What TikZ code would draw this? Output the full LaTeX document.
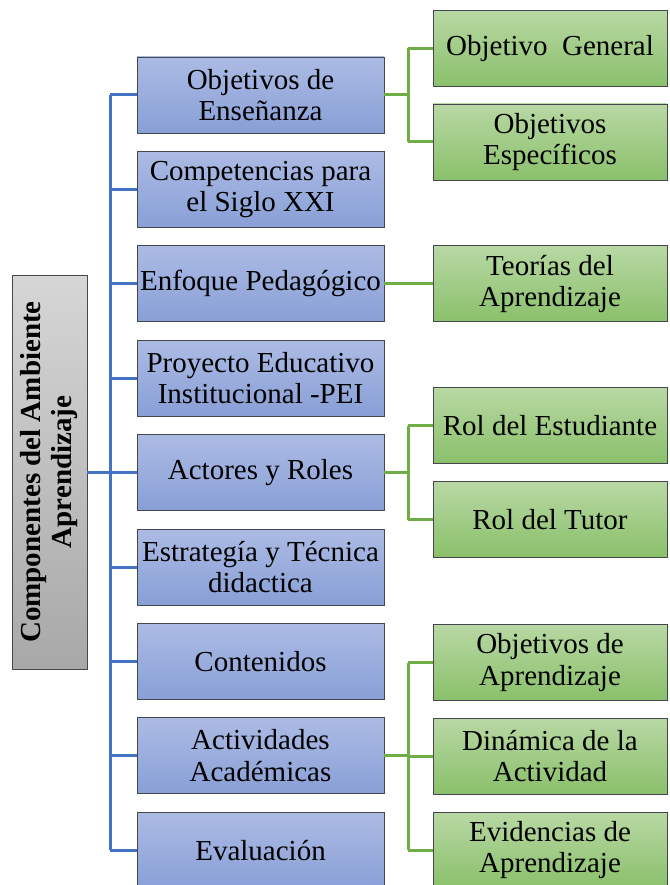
\documentclass[tikz,border=0pt]{standalone}
\usepackage{fontspec}
\setmainfont{LiberationSerif}[Extension=.ttf, UprightFont=*-Regular, BoldFont=*-Bold]
\newfontfamily\tnrfont{LiberationSerif}[Extension=.ttf, UprightFont=*-Regular, BoldFont=*-Bold]
\definecolor{bluetop}{RGB}{172,187,228}
\definecolor{bluebot}{RGB}{136,159,214}
\definecolor{greentop}{RGB}{184,216,164}
\definecolor{greenbot}{RGB}{138,192,106}
\definecolor{graytop}{RGB}{214,214,214}
\definecolor{graybot}{RGB}{168,168,168}
\definecolor{boxborder}{RGB}{70,70,80}
\definecolor{bluelink}{RGB}{68,114,196}
\definecolor{greenlink}{RGB}{112,173,71}
\begin{document}
\begin{tikzpicture}[x=1pt,y=-1pt,
  boxfont/.style={font=\tnrfont\fontsize{29}{31.5}\selectfont},
  bluebox/.style={draw=boxborder, line width=0.8pt, top color=bluetop, bottom color=bluebot,
    minimum width=247pt, minimum height=76pt, inner sep=1pt, align=center, boxfont},
  greenbox/.style={draw=boxborder, line width=0.8pt, top color=greentop, bottom color=greenbot,
    minimum width=234pt, minimum height=76pt, inner sep=1pt, align=center, boxfont},
  rootbox/.style={draw=boxborder, line width=0.8pt, top color=graytop, bottom color=graybot,
    minimum width=75pt, minimum height=394pt, inner sep=0pt},
  bline/.style={draw=bluelink, line width=3pt},
  gline/.style={draw=greenlink, line width=3pt}]
\useasboundingbox (0,0) rectangle (669,885);

% root
\node[rootbox] (root) at (49.5,472) {};
\node[rotate=90, align=center, inner sep=0pt, font=\tnrfont\fontsize{29}{31}\selectfont\bfseries] (roottext) at (root.center) {Componentes del Ambiente\\Aprendizaje};

% blue boxes
\node[bluebox] (b1) at (260.5,95.0) {Objetivos de\\Enseñanza};
\node[bluebox] (b2) at (260.5,189.4) {Competencias para\\el Siglo XXI};
\node[bluebox] (b3) at (260.5,283.8) {Enfoque Pedagógico};
\node[bluebox] (b4) at (260.5,378.2) {Proyecto Educativo\\Institucional -PEI};
\node[bluebox] (b5) at (260.5,472.6) {Actores y Roles};
\node[bluebox] (b6) at (260.5,567.0) {Estrategía y Técnica\\didactica};
\node[bluebox] (b7) at (260.5,661.4) {Contenidos};
\node[bluebox] (b8) at (260.5,755.8) {Actividades\\Académicas};
\node[bluebox] (b9) at (260.5,850.2) {Evaluación};

% green boxes
\node[greenbox] (g1) at (550,48.5) {Objetivo\ \ General};
\node[greenbox] (g2) at (550,142) {Objetivos\\Específicos};
\node[greenbox] (g3) at (550,283.8) {Teorías del\\Aprendizaje};
\node[greenbox] (g4) at (550,425.5) {Rol del Estudiante};
\node[greenbox] (g5) at (550,519.5) {Rol del Tutor};
\node[greenbox] (g6) at (550,662.5) {Objetivos de\\Aprendizaje};
\node[greenbox] (g7) at (550,756) {Dinámica de la\\Actividad};
\node[greenbox] (g8) at (550,850) {Evidencias de\\Aprendizaje};

% blue connectors
\coordinate (bs) at (110,472);
\draw[bline] (root.east) -- (root.east -| bs);
\draw[bline] (bs |- b1.west) -- (bs |- b9.west);
\foreach \i in {1,...,9}{
  \draw[bline] (bs |- b\i.west) -- (b\i.west);
}

% green connectors
\coordinate (gs) at (408,0);
\draw[gline] (b1.east) -- (b1.east -| gs);
\draw[gline] (gs |- g1.west) -- (gs |- g2.west);
\draw[gline] (gs |- g1.west) -- (g1.west);
\draw[gline] (gs |- g2.west) -- (g2.west);

\draw[gline] (b3.east) -- (g3.west);

\draw[gline] (b5.east) -- (b5.east -| gs);
\draw[gline] (gs |- g4.west) -- (gs |- g5.west);
\draw[gline] (gs |- g4.west) -- (g4.west);
\draw[gline] (gs |- g5.west) -- (g5.west);

\draw[gline] (b8.east) -- (b8.east -| gs);
\draw[gline] (gs |- g6.west) -- (gs |- g8.west);
\draw[gline] (gs |- g6.west) -- (g6.west);
\draw[gline] (gs |- g7.west) -- (g7.west);
\draw[gline] (gs |- g8.west) -- (g8.west);
\end{tikzpicture}
\end{document}
